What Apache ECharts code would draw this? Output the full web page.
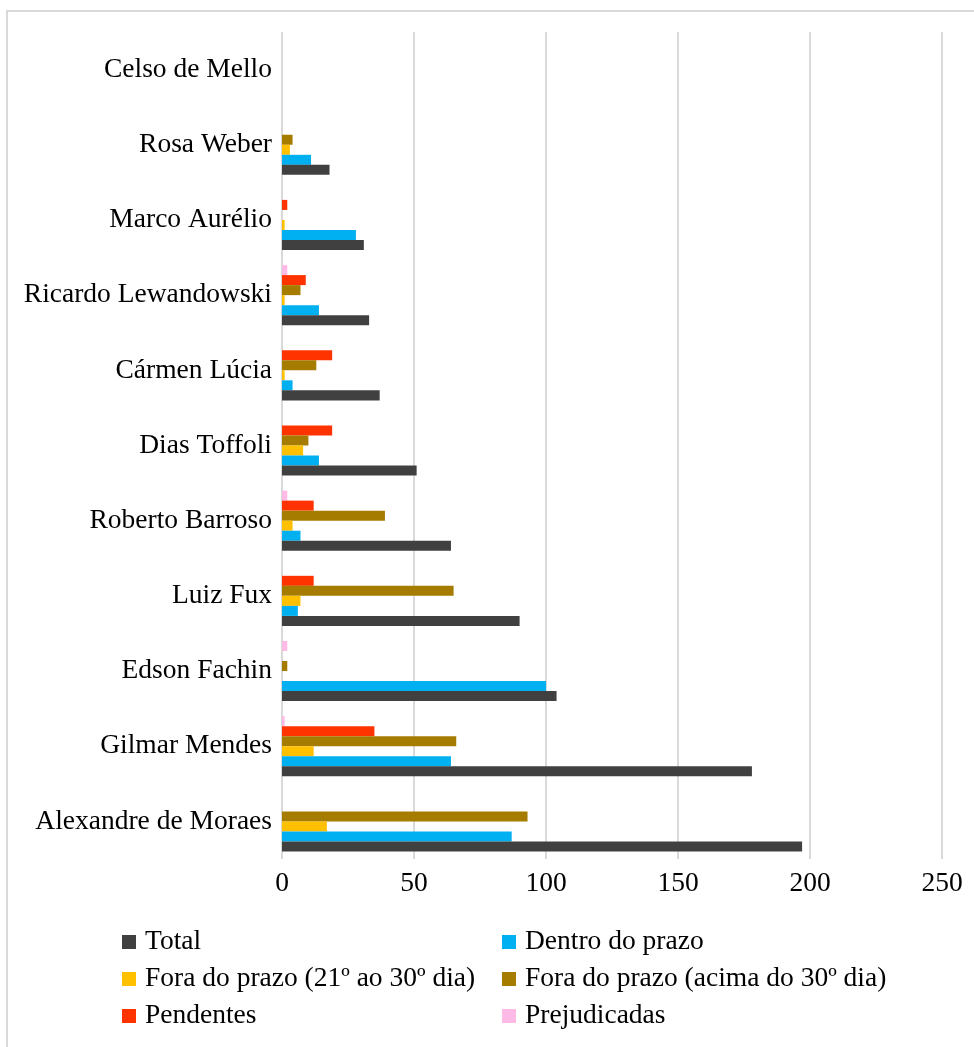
<!DOCTYPE html>
<html>
<head>
<meta charset="utf-8">
<script src="https://cdn.jsdelivr.net/npm/echarts@6/dist/echarts.min.js"></script>
<style>
  html, body { margin: 0; padding: 0; background: #fff; }
  #chart { width: 974px; height: 1047px; }
</style>
</head>
<body>
<div id="chart"></div>
<script>
// ministros, de baixo para cima
var ministros = ['Alexandre de Moraes', 'Gilmar Mendes', 'Edson Fachin', 'Luiz Fux', 'Roberto Barroso',
    'Dias Toffoli', 'Cármen Lúcia', 'Ricardo Lewandowski', 'Marco Aurélio', 'Rosa Weber', 'Celso de Mello'];

var total        = [197, 178, 104, 90, 64, 51, 37, 33, 31, 18, 0];
var dentroPrazo  = [87, 64, 100, 6, 7, 14, 4, 14, 28, 11, 0];
var fora21a30    = [17, 12, 0, 7, 4, 8, 1, 1, 1, 3, 0];
var foraAcima30  = [93, 66, 2, 65, 39, 10, 13, 7, 0, 4, 0];
var pendentes    = [0, 35, 0, 12, 12, 19, 19, 9, 2, 0, 0];
var prejudicadas = [0, 1, 2, 0, 2, 0, 0, 2, 0, 0, 0];

var eixoX = [0, 50, 100, 150, 200, 250];

var fonte = 'Liberation Serif, Times New Roman, serif';
var tam = 27.5;

var myChart = echarts.init(document.getElementById('chart'));

function serie(nome, dados, cor) {
    return {
        name: nome,
        type: 'bar',
        data: dados,
        barGap: '0%',
        barCategoryGap: '20%',
        itemStyle: { color: cor }
    };
}

var option = {
    backgroundColor: '#fff',
    animation: false,
    textStyle: { fontFamily: fonte },
    graphic: [{
        type: 'rect',
        shape: { x: 7, y: 11, width: 980, height: 1050 },
        style: { fill: 'none', stroke: '#d9d9d9', lineWidth: 2 },
        silent: true
    }],
    grid: { left: 282, top: 32, width: 660, height: 827 },
    legend: [{
        orient: 'vertical',
        left: 117,
        top: 923,
        itemWidth: 14,
        itemHeight: 14,
        itemGap: 9,
        icon: 'rect',
        textStyle: { fontFamily: fonte, fontSize: tam, color: '#000', padding: [0, 0, 0, 4] },
        data: ['Total', 'Fora do prazo (21º ao 30º dia)', 'Pendentes']
    }, {
        orient: 'vertical',
        left: 497,
        top: 923,
        itemWidth: 14,
        itemHeight: 14,
        itemGap: 9,
        icon: 'rect',
        textStyle: { fontFamily: fonte, fontSize: tam, color: '#000', padding: [0, 0, 0, 4] },
        data: ['Dentro do prazo', 'Fora do prazo (acima do 30º dia)', 'Prejudicadas']
    }],
    xAxis: {
        type: 'value',
        min: eixoX[0],
        max: eixoX[eixoX.length - 1],
        interval: 50,
        axisLine: { show: false },
        axisTick: { show: false },
        axisLabel: { fontFamily: fonte, fontSize: tam, color: '#000', margin: 11 },
        splitLine: { lineStyle: { color: '#d9d9d9', width: 2 } }
    },
    yAxis: {
        type: 'category',
        data: ministros,
        axisLine: { show: false },
        axisTick: { show: false },
        axisLabel: { fontFamily: fonte, fontSize: tam, color: '#000', margin: 10 }
    },
    // a primeira série fica no topo de cada grupo
    series: [
        serie('Prejudicadas', prejudicadas, '#ffbbe6'),
        serie('Pendentes', pendentes, '#ff3300'),
        serie('Fora do prazo (acima do 30º dia)', foraAcima30, '#a67c00'),
        serie('Fora do prazo (21º ao 30º dia)', fora21a30, '#ffc000'),
        serie('Dentro do prazo', dentroPrazo, '#00b0f0'),
        serie('Total', total, '#404040')
    ]
};

myChart.setOption(option);
</script>
</body>
</html>
